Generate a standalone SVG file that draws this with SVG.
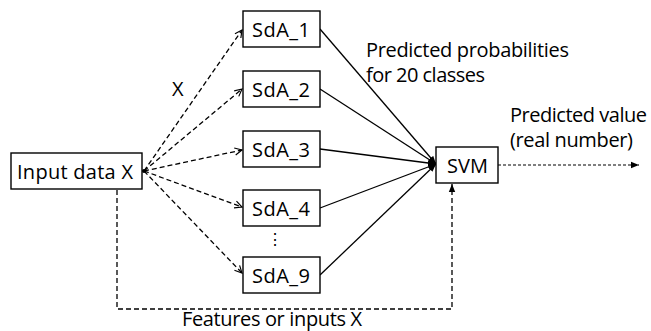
<svg xmlns="http://www.w3.org/2000/svg" width="651" height="331" viewBox="0 0 651 331">
<style>
.box{fill:#fff;stroke:#000;stroke-width:1.4}
.t{font-family:"Open Sans","Liberation Sans",sans-serif;font-size:20px;fill:#000}
.m{text-anchor:middle}
.d{fill:none;stroke:#000;stroke-width:1.3;stroke-dasharray:5 3}
.s{fill:none;stroke:#000;stroke-width:1.3}
.f{fill:none;stroke:#000;stroke-width:1.2;stroke-dasharray:3 2}
</style>
<defs>
<marker id="open" viewBox="0 0 10 10" refX="9" refY="5" markerWidth="9" markerHeight="9" markerUnits="userSpaceOnUse" orient="auto">
<path d="M1,1 L9,5 L1,9" fill="none" stroke="#000" stroke-width="1.3"/>
</marker>
<marker id="fill" viewBox="0 0 10 10" refX="10" refY="5" markerWidth="8" markerHeight="8" markerUnits="userSpaceOnUse" orient="auto">
<path d="M0,1 L10,5 L0,9 Z" fill="#000"/>
</marker>
</defs>
<g id="connectors">
<path class="d" d="M144,171 L242,30" marker-end="url(#open)"/>
<path class="d" d="M144,171 L242,89" marker-end="url(#open)"/>
<path class="d" d="M144,171 L242,150" marker-end="url(#open)"/>
<path class="d" d="M144,171 L242,207" marker-end="url(#open)"/>
<path class="d" d="M144,171 L242,273" marker-end="url(#open)"/>
<circle cx="144" cy="171" r="2" fill="#000"/>
<path class="s" d="M320,29 L436,164" marker-end="url(#fill)"/>
<path class="s" d="M320,89 L436,164" marker-end="url(#fill)"/>
<path class="s" d="M320,149 L436,164" marker-end="url(#fill)"/>
<path class="s" d="M320,208 L436,164" marker-end="url(#fill)"/>
<path class="s" d="M320,275 L436,164" marker-end="url(#fill)"/>
<path class="d" d="M117,190 L117,309 L452,309 L452,184" marker-end="url(#fill)"/>
<path class="f" d="M498,165 L639,165" marker-end="url(#fill)"/>
</g>
<g id="input"><rect class="box" x="11" y="153" width="131" height="36"/><text class="t" x="17" y="179" textLength="116">Input data X</text></g>
<g id="sda1"><rect class="box" x="243" y="11" width="77" height="36"/><text class="t" x="252" y="37" textLength="58">SdA_1</text></g>
<g id="sda2"><rect class="box" x="243" y="71" width="77" height="36"/><text class="t" x="252" y="97" textLength="58">SdA_2</text></g>
<g id="sda3"><rect class="box" x="243" y="131" width="77" height="36"/><text class="t" x="252" y="157" textLength="58">SdA_3</text></g>
<g id="sda4"><rect class="box" x="243" y="190" width="77" height="36"/><text class="t" x="252" y="216" textLength="58">SdA_4</text></g>
<g id="sda9"><rect class="box" x="243" y="257" width="77" height="36"/><text class="t" x="252" y="283" textLength="58">SdA_9</text></g>
<g id="svm"><rect class="box" x="436" y="147" width="62" height="36"/><text class="t" x="447" y="173" textLength="41">SVM</text></g>
<g id="labels">
<text class="t m" x="275" y="245" style="font-size:16px">⋮</text>
<text class="t" x="172" y="96">X</text>
<text class="t" x="366" y="57" textLength="203">Predicted probabilities</text>
<text class="t" x="366" y="82" textLength="119">for 20 classes</text>
<text class="t" x="510" y="122" textLength="137">Predicted value</text>
<text class="t" x="510" y="147" textLength="123">(real number)</text>
<text class="t" x="182" y="326" textLength="180">Features or inputs X</text>
</g>
</svg>
